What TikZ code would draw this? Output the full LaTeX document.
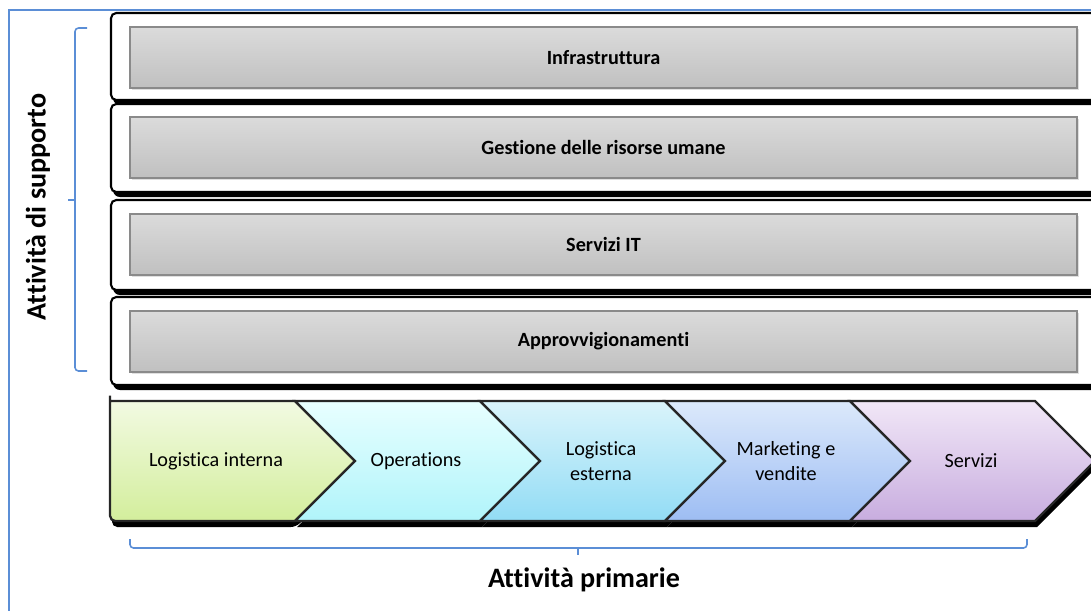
\documentclass[tikz,border=0pt]{standalone}
\usepackage{fontspec}
\setmainfont[Ligatures=NoCommon]{Carlito}
\usetikzlibrary{positioning,shadows}

\definecolor{framebl}{HTML}{5B8ED6}
\definecolor{boxedge}{HTML}{8A8A8A}
\definecolor{boxtop}{HTML}{DBDBDB}
\definecolor{boxbot}{HTML}{C0C0C0}
\definecolor{greentop}{HTML}{F2FAE2}
\definecolor{greenbot}{HTML}{D3EE9C}
\definecolor{cyantop}{HTML}{E8FFFF}
\definecolor{cyanbot}{HTML}{B0F4FA}
\definecolor{skytop}{HTML}{DAF4FB}
\definecolor{skybot}{HTML}{92DCF5}
\definecolor{bluetop}{HTML}{DCE9FB}
\definecolor{bluebot}{HTML}{9DBDF3}
\definecolor{lilactop}{HTML}{F1E7F7}
\definecolor{lilacbot}{HTML}{C8ADDF}

\tikzset{
  frameline/.style={draw=framebl, line width=1.1pt},
  bracket/.style={draw=framebl, line width=0.9pt, rounded corners=2pt},
  rowshadow/.style={fill=black, rounded corners=4pt},
  supportrow/.style={draw=black, line width=1.2pt, fill=white, rounded corners=3pt},
  graybox/.style={draw=boxedge, line width=0.9pt, top color=boxtop,
    bottom color=boxbot, minimum width=18.94cm, minimum height=1.22cm,
    inner sep=0pt, outer sep=0pt,
    drop shadow={opacity=0.25, shadow xshift=1pt, shadow yshift=-1pt},
    font=\bfseries\fontsize{11.5}{13}\selectfont},
  chevshadow/.style={fill=black},
  chevron/.style={draw=black!85, line width=1.3pt, line join=miter},
  chevlabel/.style={align=center, font=\fontsize{11.5}{14}\selectfont},
  sidelabel/.style={font=\bfseries\fontsize{16}{19}\selectfont}
}

\begin{document}
\begin{tikzpicture}[x=0.02cm, y=-0.02cm]

  \useasboundingbox (0,0) rectangle (1091,610);
  \clip (0,0) rectangle (1091,610);

  % Outer frame
  \draw[frameline] (9,620) -- (9,10) -- (1100,10);

  % Support rows
  \foreach \top/\bot in {13/100, 104/192, 200/290, 297/385} {
    \fill[rowshadow] (113,\top+5) rectangle (1110,\bot+5);
    \draw[supportrow] (111,\top) rectangle (1110,\bot);
  }

  \node[graybox] (infra)   at (603.5,57.5)  {Infrastruttura};
  \node[graybox] (hr)      at (603.5,147.5) {Gestione delle risorse umane};
  \node[graybox] (itserv)  at (603.5,244.5) {Servizi IT};
  \node[graybox] (procure) at (603.5,341.5) {Approvvigionamenti};

  % Primary activities (chevrons)
  \fill[chevshadow, rounded corners=3pt] (112,407) -- (296,407) -- (356,467)
    -- (296,527) -- (112,527) -- cycle;
  \foreach \l in {295,480,665,850} {
    \fill[chevshadow] (\l+2,407) -- (\l+187,407) -- (\l+247,467)
      -- (\l+187,527) -- (\l+2,527) -- (\l+62,467) -- cycle;
  }

  \draw[chevron, top color=greentop, bottom color=greenbot]
    (110,401) -- (295,401) -- (355,461) -- (295,521)
    [rounded corners=3pt] -- (110,521) -- (110,401) [sharp corners] -- cycle;
  \foreach \l/\c in {295/cyan, 480/sky, 665/blue, 850/lilac} {
    \draw[chevron, top color=\c top, bottom color=\c bot]
      (\l,401) -- (\l+185,401) -- (\l+245,461) -- (\l+185,521)
      -- (\l,521) -- (\l+60,461) -- cycle;
  }

  \node[chevlabel] (inlog)  at (216,461) {Logistica interna};
  \node[chevlabel] (ops)    at (416,461) {Operations};
  \node[chevlabel] (outlog) at (601,461) {Logistica\\esterna};
  \node[chevlabel] (mkt)    at (786,461) {Marketing e\\vendite};
  \node[chevlabel] (serv)   at (971,461) {Servizi};

  % Brackets
  \coordinate (lbtop) at (87,28);
  \coordinate (lbbot) at (87,371);
  \coordinate (lbmid) at (75,200);
  \draw[bracket] (lbtop) -- (75,28) -- (75,371) -- (lbbot);
  \draw[framebl, line width=0.9pt] (lbmid) -- ++(-7,0);

  \coordinate (bbleft)  at (130,539);
  \coordinate (bbright) at (1027,539);
  \coordinate (bbmid)   at (578,548);
  \draw[bracket] (bbleft) -- (130,548) -- (1027,548) -- (bbright);
  \draw[framebl, line width=0.9pt] (bbmid) -- ++(0,7);

  % Side labels
  \node[sidelabel, rotate=90] (support) at (38,207) {Attività di supporto};
  \node[sidelabel] (primary) at (584,580) {Attività primarie};

\end{tikzpicture}
\end{document}
